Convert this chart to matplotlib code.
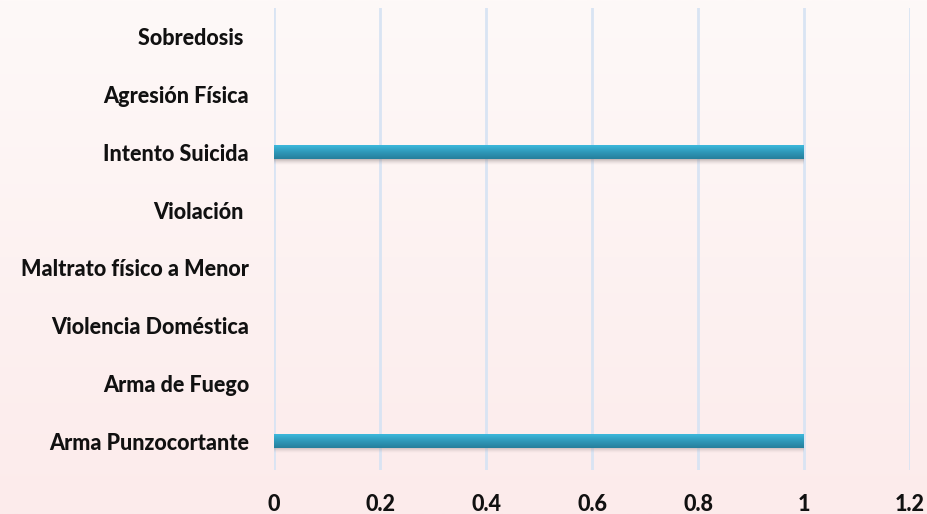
import numpy as np
import matplotlib
matplotlib.use("Agg")
from matplotlib import pyplot as plt
from matplotlib.colors import LinearSegmentedColormap

categories = ["Arma Punzocortante", "Arma de Fuego", "Violencia Doméstica",
              "Maltrato físico a Menor", "Violación ", "Intento Suicida",
              "Agresión Física", "Sobredosis "]
values = [1, 0, 0, 0, 0, 1, 0, 0]
xticks = [0, 0.2, 0.4, 0.6, 0.8, 1, 1.2]
xticklabels = ["0", "0.2", "0.4", "0.6", "0.8", "1", "1.2"]

plt.rcParams['font.family'] = ['Lato', 'DejaVu Sans']

fig = plt.figure(figsize=(9.28, 5.14), dpi=100)

# pinkish background gradient over the whole figure
bg = fig.add_axes([0, 0, 1, 1], zorder=-10)
bg_cmap = LinearSegmentedColormap.from_list("bg", ["#fef9f8", "#fcebeb"])
bg.imshow(np.linspace(0, 1, 256).reshape(-1, 1), aspect='auto', cmap=bg_cmap,
          extent=[0, 1, 0, 1], origin='upper')
bg.axis('off')

ax = fig.add_axes([274/928, 1 - 470/514, 636/928, 462/514])
ax.patch.set_alpha(0)

bar_h = 0.24
ypos = np.arange(len(categories))
bar_cmap = LinearSegmentedColormap.from_list("bar", ["#3db9dc", "#2e98b9", "#267f9c"])
shadow_cmap = LinearSegmentedColormap.from_list("sh", [(0.55, 0.5, 0.5, 0.55), (0.8, 0.75, 0.75, 0.0)])

for y, v in zip(ypos, values):
    if v <= 0:
        continue
    # soft shadow under the bar
    ax.imshow(np.linspace(0, 1, 64).reshape(-1, 1), aspect='auto', cmap=shadow_cmap,
              extent=[0.0, v, y - bar_h/2 - 0.09, y - bar_h/2], origin='upper',
              zorder=2, interpolation='bilinear')
    bar = ax.barh(y, v, height=bar_h, color='none', zorder=3)[0]
    im = ax.imshow(np.linspace(0, 1, 64).reshape(-1, 1), aspect='auto', cmap=bar_cmap,
                   extent=[0, v, y - bar_h/2, y + bar_h/2], origin='upper',
                   zorder=3, interpolation='bilinear')
    im.set_clip_path(bar)

ax.set_xlim(0, 1.2)
ax.set_ylim(-0.5, len(categories) - 0.5)
ax.set_xticks(xticks)
ax.set_xticklabels(xticklabels)
ax.set_yticks(ypos)
ax.set_yticklabels(categories)
ax.grid(axis='x', color='#d9e4f3', linewidth=2)
ax.set_axisbelow(True)
for s in ax.spines.values():
    s.set_visible(False)
ax.tick_params(axis='both', length=0, labelsize=15.5)
ax.tick_params(axis='y', pad=18)
ax.tick_params(axis='x', pad=17)
for t in ax.get_xticklabels() + ax.get_yticklabels():
    t.set_fontweight('black')
    t.set_color('#111111')

fig.savefig("out.png", dpi=100)
